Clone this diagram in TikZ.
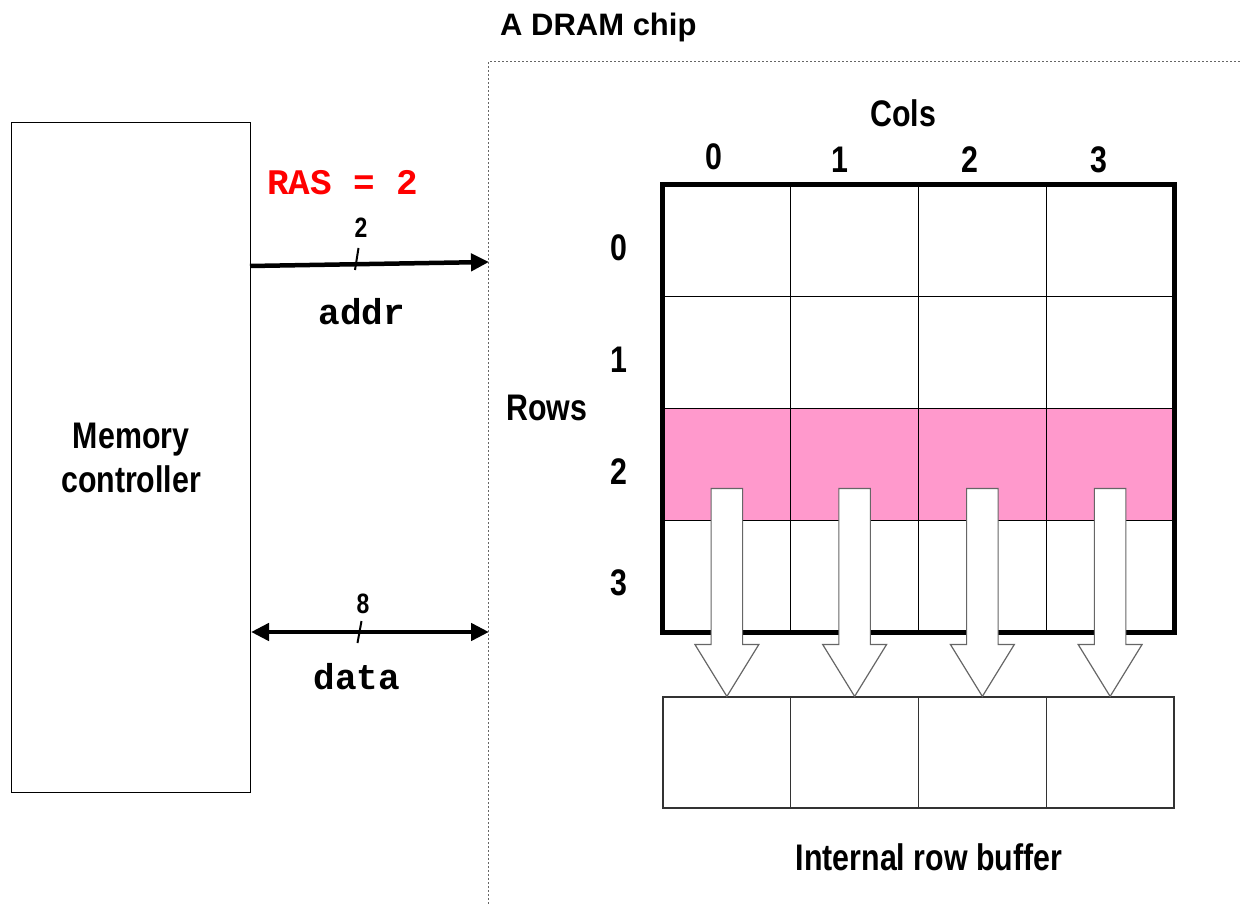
\documentclass[tikz,border=0pt]{standalone}
\usepackage{fontspec}
\usetikzlibrary{arrows.meta,calc}
\newfontfamily\narfont{Liberation Sans}[FakeStretch=0.82]
\newfontfamily\widefont{Liberation Sans}
\newfontfamily\courfont{Liberation Mono}
\definecolor{rowpink}{HTML}{FF99CC}
\definecolor{rasred}{HTML}{FF0000}
\begin{document}
\begin{tikzpicture}[x=1pt,y=-1pt,
  >={Triangle[length=18pt,width=17pt]},
  lbl/.style={inner sep=0pt, font=\narfont\bfseries\fontsize{37}{40}\selectfont},
  smalllbl/.style={inner sep=0pt, font=\narfont\bfseries\fontsize{28}{30}\selectfont},
  monolbl/.style={inner sep=0pt, font=\courfont\bfseries\fontsize{36}{38}\selectfont},
  cell/.style={draw=black, line width=1.2pt, minimum width=127.75pt, minimum height=111.75pt, inner sep=0pt},
  bufcell/.style={draw=black!80, line width=1.2pt, minimum width=127.75pt, minimum height=111pt, inner sep=0pt},
  bus/.style={line width=4.5pt},
  slash/.style={line width=2pt},
  barrow/.style={draw=black!60, fill=white, line width=1.2pt, line join=miter},
  chipedge/.style={draw=black!60, line width=1pt, dash pattern=on 2pt off 2pt}
]
\useasboundingbox (0,0) rectangle (1240,904);

% memory controller
\node[draw, line width=1.2pt, minimum width=239pt, minimum height=670pt, anchor=north west] (mc) at (11,122) {};
\node[inner sep=0pt, align=center, font=\narfont\bfseries\fontsize{37}{44}\selectfont] (mctext) at (mc.center)
  {\bfseries Memory\\\bfseries controller};

% chip boundary
\coordinate (chipbot) at (488,904);
\coordinate (chipcorner) at (488,62);
\coordinate (chipright) at (1240,62);
\draw[chipedge] (chipbot) -- (chipcorner) -- (chipright);
\node[inner sep=0pt, anchor=base west, font=\widefont\bfseries\fontsize{31}{34}\selectfont] (chiptitle) at (500,36) {A DRAM chip};

% buses
\coordinate (addrA) at (250,266);
\coordinate (addrB) at (489,262);
\draw[bus, ->] (addrA) -- (addrB);
\coordinate (as1) at (355,270);
\coordinate (as2) at (358.5,248);
\draw[slash] (as1) -- (as2);
\node[smalllbl] (addrw) at (361,228) {2};
\node[monolbl] (addrlbl) at (362,312) {addr};
\node[monolbl, text=rasred] (ras) at (343,183) {RAS = 2};

\coordinate (dataA) at (251,632);
\coordinate (dataB) at (489,632);
\draw[bus, <->] (dataA) -- (dataB);
\coordinate (ds1) at (357.5,643);
\coordinate (ds2) at (361.5,621);
\draw[slash] (ds1) -- (ds2);
\node[smalllbl] (dataw) at (363,604) {8};
\node[monolbl] (datalbl) at (357,677) {data};

% grid
\foreach \r in {0,1,3}{
  \foreach \c in {0,...,3}{
    \node[cell] (c\r\c) at ({663+127.75*(\c+0.5)},{185+111.75*(\r+0.5)}) {};
  }
}
\foreach \c in {0,...,3}{
  \node[cell, fill=rowpink] (c2\c) at ({663+127.75*(\c+0.5)},{185+111.75*2.5}) {};
}
\draw[line width=4.5pt] (c00.north west) rectangle (c33.south east);

% row buffer
\foreach \c in {0,...,3}{
  \node[bufcell] (b\c) at ({663+127.75*(\c+0.5)},752.5) {};
}

% block arrows
\foreach \c in {0,...,3}{
  \begin{scope}[shift={(b\c.north)}]
    \draw[barrow] (-15.75,-208) -- (15.75,-208) -- (15.75,-52) -- (32,-52) -- (0,0) -- (-32,-52) -- (-15.75,-52) -- cycle;
  \end{scope}
}

% labels
\node[lbl] (colstitle) at (903,113) {Cols};
\node[lbl] (col0) at (714,157) {0};
\node[lbl] (col1) at (840,160) {1};
\node[lbl] (col2) at (970,160) {2};
\node[lbl] (col3) at (1099,160) {3};
\node[lbl] (rowstitle) at (547,408) {Rows};
\foreach \r in {0,...,3}{
  \node[lbl] (row\r) at (619,{185+111.75*(\r+0.5)+7}) {\r};
}
\node[lbl, anchor=base] (buftitle) at (929,870) {Internal row buffer};
\end{tikzpicture}
\end{document}
